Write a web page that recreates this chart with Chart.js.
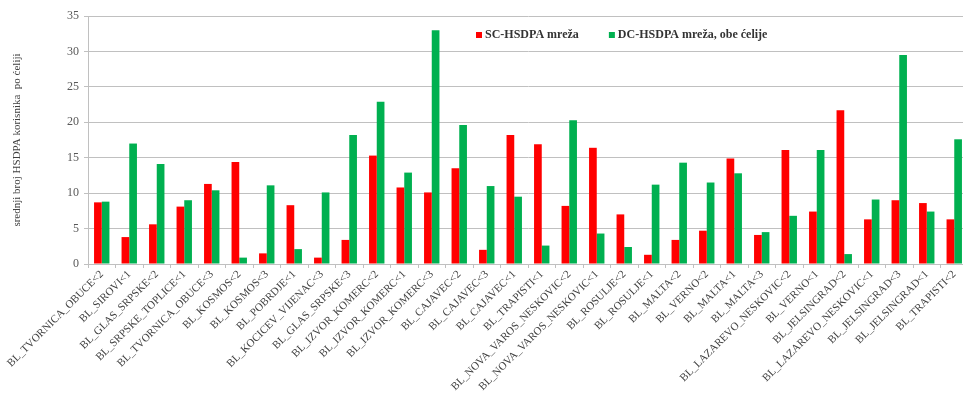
<!DOCTYPE html>
<html>
<head>
<meta charset="utf-8">
<script src="https://cdn.jsdelivr.net/npm/chart.js@4/dist/chart.umd.min.js"></script>
<style>
  html, body { margin: 0; padding: 0; overflow: hidden; background: #ffffff; }
  canvas { display: block; }
</style>
</head>
<body>
<canvas id="chart" width="970" height="393"></canvas>
<script>
// Cells (sectors) of the network
const cells = [
  'BL_TVORNICA_OBUCE<2', 'BL_SIROVI<1', 'BL_GLAS_SRPSKE<2', 'BL_SRPSKE_TOPLICE<1',
  'BL_TVORNICA_OBUCE<3', 'BL_KOSMOS<2', 'BL_KOSMOS<3', 'BL_POBRDJE<1',
  'BL_KOCICEV_VIJENAC<3', 'BL_GLAS_SRPSKE<3', 'BL_IZVOR_KOMERC<2', 'BL_IZVOR_KOMERC<1',
  'BL_IZVOR_KOMERC<3', 'BL_CAJAVEC<2', 'BL_CAJAVEC<3', 'BL_CAJAVEC<1',
  'BL_TRAPISTI<1', 'BL_NOVA_VAROS_NESKOVIC<2', 'BL_NOVA_VAROS_NESKOVIC<1', 'BL_ROSULJE<2',
  'BL_ROSULJE<1', 'BL_MALTA<2', 'BL_VERNO<2', 'BL_MALTA<1',
  'BL_MALTA<3', 'BL_LAZAREVO_NESKOVIC<2', 'BL_VERNO<1', 'BL_JELSINGRAD<2',
  'BL_LAZAREVO_NESKOVIC<1', 'BL_JELSINGRAD<3', 'BL_JELSINGRAD<1', 'BL_TRAPISTI<2'
];

// Average number of HSDPA users per cell
const scHsdpa = [
  8.7, 3.8, 5.6, 8.1, 11.3, 14.4, 1.5, 8.3,
  0.9, 3.4, 15.3, 10.8, 10.1, 13.5, 2.0, 18.2,
  16.9, 8.2, 16.4, 7.0, 1.3, 3.4, 4.7, 14.9,
  4.1, 16.1, 7.4, 21.7, 6.3, 9.0, 8.6, 6.3
];
const dcHsdpa = [
  8.8, 17.0, 14.1, 9.0, 10.4, 0.9, 11.1, 2.1,
  10.1, 18.2, 22.9, 12.9, 33.0, 19.6, 11.0, 9.5,
  2.6, 20.3, 4.3, 2.4, 11.2, 14.3, 11.5, 12.8,
  4.5, 6.8, 16.1, 1.4, 9.1, 29.5, 7.4, 17.6
];

const seriesNames = ['SC-HSDPA mreža', 'DC-HSDPA mreža, obe ćelije'];
const seriesColors = ['#ff0000', '#00b050'];
const yTitle = 'srednji broj HSDPA korisnika  po ćeliji';
const yMax = 35;
const yStep = 5;

const SERIF = "'Liberation Serif', 'Times New Roman', serif";
const TEXT = '#404040';
const GRID = '#c0c0c0';

// Legend drawn inside the plot, near the top
const innerLegend = {
  id: 'innerLegend',
  afterDraw(chart) {
    const { ctx, chartArea } = chart;
    ctx.save();
    ctx.font = 'bold 12px ' + SERIF;
    ctx.textBaseline = 'middle';
    let x = chartArea.left + 388;
    const y = chartArea.top + 19;
    chart.data.datasets.forEach((ds) => {
      ctx.fillStyle = ds.backgroundColor;
      ctx.fillRect(x, y - 3, 6, 6);
      ctx.fillStyle = '#333333';
      ctx.fillText(ds.label, x + 9, y);
      x += 9 + ctx.measureText(ds.label).width + 30;
    });
    ctx.restore();
  }
};

new Chart(document.getElementById('chart'), {
  type: 'bar',
  data: {
    labels: cells,
    datasets: [
      { label: seriesNames[0], data: scHsdpa, backgroundColor: seriesColors[0] },
      { label: seriesNames[1], data: dcHsdpa, backgroundColor: seriesColors[1] }
    ]
  },
  options: {
    responsive: false,
    animation: false,
    devicePixelRatio: 1,
    layout: { padding: { left: 0, right: 2, top: 16, bottom: 0 } },
    datasets: {
      bar: { categoryPercentage: 0.56, barPercentage: 1.0, borderWidth: 0 }
    },
    plugins: {
      legend: { display: false },
      tooltip: { enabled: false }
    },
    scales: {
      x: {
        offset: true,
        grid: {
          offset: true,
          drawOnChartArea: false,
          drawTicks: true,
          tickLength: 4,
          color: GRID
        },
        border: { display: true, color: GRID, width: 1 },
        ticks: {
          autoSkip: false,
          minRotation: 45,
          maxRotation: 45,
          padding: 0,
          color: TEXT,
          font: { family: SERIF, size: 11 }
        },
        afterFit(scale) { scale.height = 129; }
      },
      y: {
        min: 0,
        max: yMax,
        ticks: {
          stepSize: yStep,
          padding: 5,
          color: '#595959',
          font: { family: SERIF, size: 12 }
        },
        grid: { color: GRID, lineWidth: 1, tickLength: 4 },
        border: { display: true, color: GRID, width: 1 },
        title: {
          display: true,
          text: yTitle,
          color: TEXT,
          padding: { top: 11, bottom: 0 },
          font: { family: SERIF, size: 11 }
        },
        afterFit(scale) { scale.width = 88; }
      }
    }
  },
  plugins: [innerLegend]
});
</script>
</body>
</html>
